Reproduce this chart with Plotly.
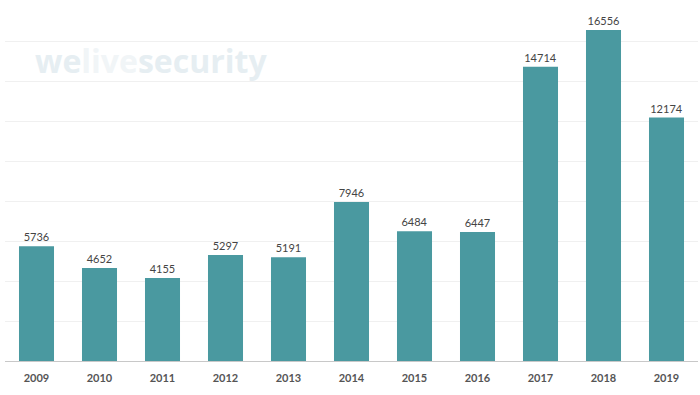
import plotly.graph_objects as go

years = ["2009", "2010", "2011", "2012", "2013", "2014", "2015", "2016", "2017", "2018", "2019"]
values = [5736, 4652, 4155, 5297, 5191, 7946, 6484, 6447, 14714, 16556, 12174]

fig = go.Figure()
fig.add_trace(go.Bar(
    x=years, y=values,
    marker=dict(color="#4a99a0", line=dict(width=0)),
    text=[str(v) for v in values],
    textposition="outside",
    textfont=dict(family="Lato", size=11, color="#444444"),
    cliponaxis=False,
))

fig.update_layout(
    width=700, height=395,
    margin=dict(l=5, r=2, t=1, b=34),
    paper_bgcolor="white", plot_bgcolor="white",
    bargap=0.444,
    showlegend=False,
    xaxis=dict(
        type="category",
        showline=True, linecolor="#c8c8c8", linewidth=1,
        ticks="", showgrid=False, ticklabelstandoff=7,
        tickfont=dict(family="Lato", size=11, color="#555555", weight="bold"),
    ),
    yaxis=dict(
        range=[0, 18000], dtick=2000,
        showticklabels=False, showgrid=True,
        gridcolor="#f0f0f0", gridwidth=1,
        zeroline=False,
    ),
    annotations=[dict(
        x=(33 - 5) / 693, y=(361 - 61) / 360, xref="paper", yref="paper",
        text="<b><span style='color:#e6eef2'>we</span><span style='color:#f1f5f7'>live</span><span style='color:#e6eef2'>security</span></b>",
        showarrow=False, xanchor="left", yanchor="middle",
        font=dict(family="Open Sans", size=32),
    )],
)

fig.write_html("out.html", config={"displayModeBar": False},
               post_script="document.body.style.margin='0';")
